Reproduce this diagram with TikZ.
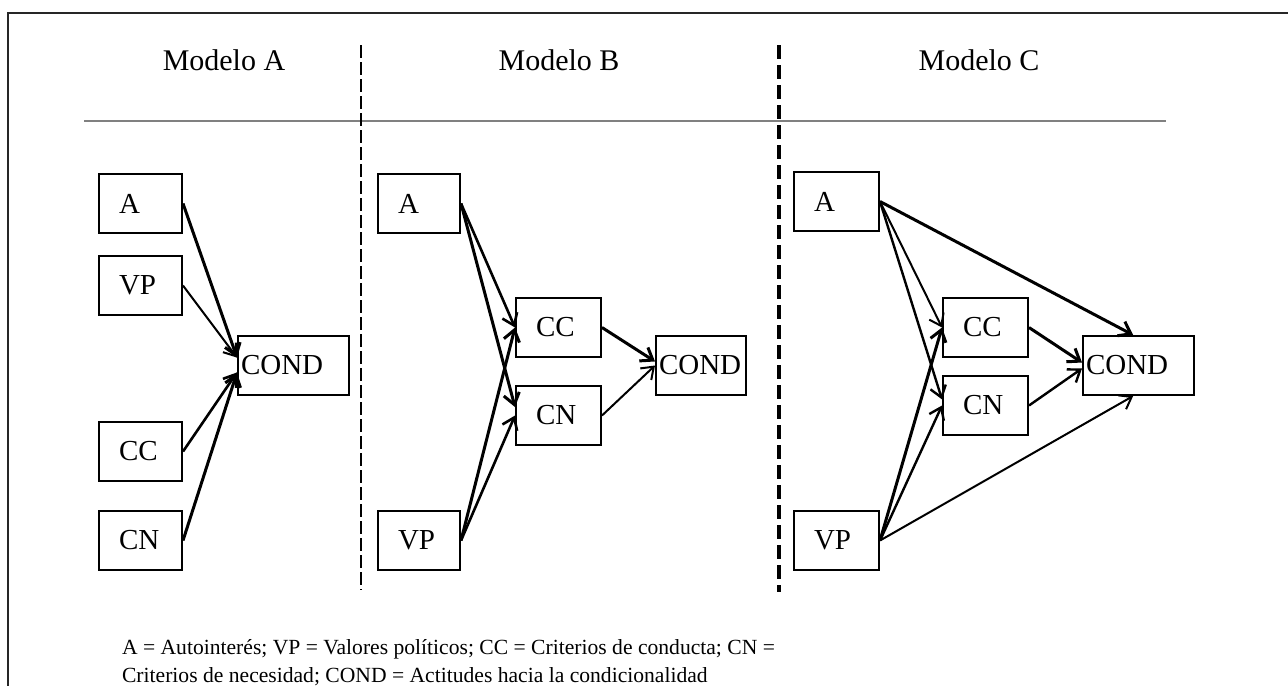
\documentclass[tikz,border=0pt]{standalone}
\usepackage{fontspec}
\setmainfont{Liberation Serif}
\usetikzlibrary{arrows.meta}
\begin{document}
\begin{tikzpicture}[x=0.5pt,y=-0.5pt,
  bx/.style={draw, line width=1pt, anchor=north west, align=left, inner xsep=10pt, inner ysep=0pt, text width=22pt, minimum height=29.5pt, font=\fontsize{14.5}{16}\selectfont},
  cond/.style={bx, inner xsep=1.5pt, text width=52.5pt},
  arr/.style={-{Straight Barb[length=5.5pt,width=8pt]}, line width=1pt},
  tarr/.style={arr, line width=1.5pt},
  ttl/.style={anchor=base, font=\fontsize{15}{18}\selectfont},
  note/.style={anchor=base west, font=\fontsize{10.8}{13}\selectfont},
  rule/.style={draw=gray, line width=1pt}]
\useasboundingbox (0,0) rectangle (1288,686);
% frame
\draw[line width=0.7pt, draw=black!85] (1288,13) -- (8,13) -- (8,686);
% titles
\node[ttl] (tA) at (224,70) {Modelo A};
\node[ttl] (tB) at (559,70) {Modelo B};
\node[ttl] (tC) at (979,70) {Modelo C};
% rule and separators
\draw[rule] (84,121) -- (1166,121);
\draw[line width=0.7pt, dash pattern=on 6.5pt off 2pt] (361,45) -- (361,590);
\draw[line width=2pt, dash pattern=on 7pt off 3pt] (779,45) -- (779,592);
% Model A
\node[bx, text width=21.5pt] (aA) at (98,173) {A};
\node[bx, text width=21.5pt] (aVP) at (98,255) {VP};
\node[bx, text width=21.5pt] (aCC) at (98,421) {CC};
\node[bx, text width=21.5pt] (aCN) at (98,510) {CN};
\node[cond] (aCOND) at (237,335) {COND};
\draw[tarr] (aA.east) -- (aCOND.172);
\draw[arr] (aVP.east) -- (aCOND.172);
\draw[arr, line width=1.3pt] (aCC.east) -- (aCOND.187);
\draw[tarr] (aCN.east) -- (aCOND.187);
% Model B
\node[bx, text width=21pt] (bA) at (377,173) {A};
\node[bx, text width=21pt] (bVP) at (377,510) {VP};
\node[bx, text width=22.5pt] (bCC) at (515,297) {CC};
\node[bx, text width=22.5pt] (bCN) at (515,385) {CN};
\node[cond, text width=42pt] (bCOND) at (655,335) {COND};
\draw[arr, line width=1.3pt] (bA.east) -- (bCC.west);
\draw[tarr] (bA.east) -- (bCN.169);
\draw[tarr] (bVP.east) -- (bCC.west);
\draw[arr, line width=1.3pt] (bVP.east) -- (bCN.west);
\draw[tarr] (bCC.east) -- (bCOND.175);
\draw[arr] (bCN.east) -- (bCOND.west);
% Model C
\node[bx, text width=22.5pt] (cA) at (793,171) {A};
\node[bx, text width=22.5pt] (cVP) at (793,510) {VP};
\node[bx, text width=22.5pt] (cCC) at (942,297) {CC};
\node[bx, text width=22.5pt] (cCN) at (942,375) {CN};
\node[cond] (cCOND) at (1082,335) {COND};
\draw[tarr] (cA.east) -- (cCOND.100);
\draw[arr] (cA.east) -- (cCC.west);
\draw[arr, line width=1.2pt] (cA.east) -- (cCN.172);
\draw[tarr] (cVP.east) -- (cCC.west);
\draw[arr, line width=1.2pt] (cVP.east) -- (cCN.west);
\draw[arr] (cVP.east) -- (cCOND.260);
\draw[tarr] (cCC.east) -- (cCOND.177);
\draw[arr, line width=1.2pt] (cCN.east) -- (cCOND.183);
% legend
\node[note] (n1) at (115,654) {A = Autointerés; VP = Valores políticos; CC = Criterios de conducta; CN =};
\node[note] (n2) at (115,682) {Criterios de necesidad; COND = Actitudes hacia la condicionalidad};
\end{tikzpicture}
\end{document}
